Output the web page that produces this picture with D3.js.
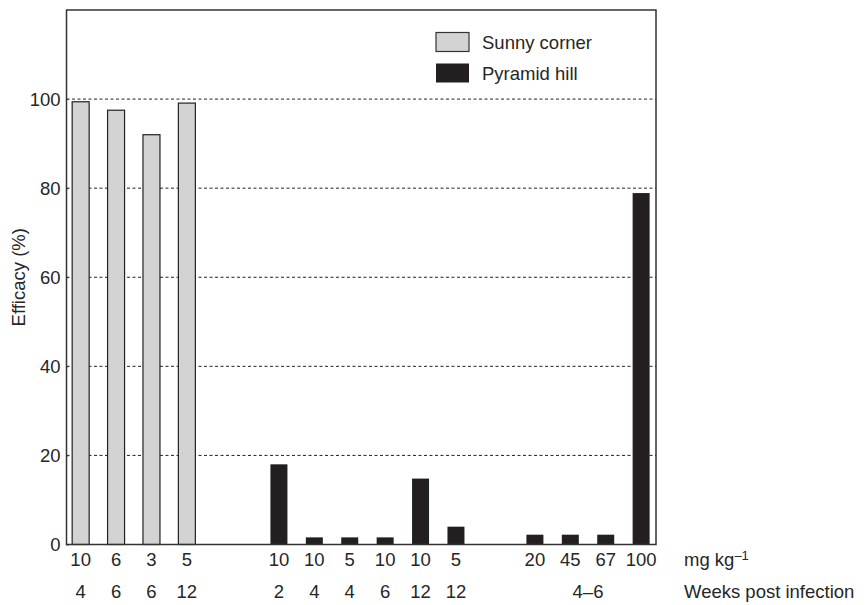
<!DOCTYPE html>
<html>
<head>
<meta charset="utf-8">
<script src="https://cdn.jsdelivr.net/npm/d3@7"></script>
<style>
  body { margin: 0; background: #fff; }
  text { font-family: "Liberation Sans", Arial, sans-serif; fill: #262626; }
</style>
</head>
<body>
<svg id="chart" width="865" height="605"></svg>
<script>
// values
const doses   = ["10", "6", "3", "5", "10", "10", "5", "10", "10", "5", "20", "45", "67", "100"];
const weeks   = ["4", "6", "6", "12", "2", "4", "4", "6", "12", "12", "", "", "", ""];
const sites   = ["Sunny corner", "Sunny corner", "Sunny corner", "Sunny corner",
                 "Pyramid hill", "Pyramid hill", "Pyramid hill", "Pyramid hill", "Pyramid hill", "Pyramid hill",
                 "Pyramid hill", "Pyramid hill", "Pyramid hill", "Pyramid hill"];
const groups  = [0, 0, 0, 0, 1, 1, 1, 1, 1, 1, 2, 2, 2, 2];
const efficacy = [99.4, 97.5, 92.0, 99.1, 18.0, 1.6, 1.6, 1.6, 14.8, 4.0, 2.2, 2.2, 2.2, 78.9];
const yTicks  = [0, 20, 40, 60, 80, 100];
const legendItems = ["Sunny corner", "Pyramid hill"];

// gaps between the three experiment groups, in bar slots
const groupOffset = [0, 1.6, 2.83];

const svg = d3.select("#chart");
const frame = { left: 66.5, right: 656, top: 10, bottom: 544.5 };
const fs = "18.5px";

// slot position of each bar
const slots = doses.map((d, i) => i + groupOffset[groups[i]]);

const x = d3.scaleLinear().domain([-0.4, 16.25]).range([frame.left, frame.right]);
const y = d3.scaleLinear().domain([0, 120]).range([frame.bottom, frame.top]);
const colour = d3.scaleOrdinal().domain(legendItems).range(["#d3d3d3", "#231f20"]);
const barW = 17;

// dashed grid lines
svg.append("g")
  .selectAll("line")
  .data(yTicks.filter(t => t > 0))
  .enter()
  .append("line")
    .attr("x1", frame.left).attr("x2", frame.right)
    .attr("y1", d => y(d)).attr("y2", d => y(d))
    .attr("stroke", "#222")
    .attr("stroke-width", 1)
    .attr("stroke-dasharray", "3,2.5");

// bars
svg.append("g")
  .selectAll("rect")
  .data(efficacy)
  .enter()
  .append("rect")
    .attr("x", (d, i) => x(slots[i]) - barW / 2)
    .attr("y", d => y(d))
    .attr("width", barW)
    .attr("height", d => y(0) - y(d))
    .attr("fill", (d, i) => colour(sites[i]))
    .attr("stroke", (d, i) => sites[i] === "Sunny corner" ? "#222" : "none")
    .attr("stroke-width", 1.2);

// frame
svg.append("rect")
  .attr("x", frame.left).attr("y", frame.top)
  .attr("width", frame.right - frame.left).attr("height", frame.bottom - frame.top)
  .attr("fill", "none")
  .attr("stroke", "#333")
  .attr("stroke-width", 1.5);

// y axis labels
const yAxis = d3.axisLeft(y).tickValues(yTicks).tickSize(-2).tickPadding(6);
const yg = svg.append("g")
  .attr("transform", `translate(${frame.left},0)`)
  .call(yAxis);
yg.select(".domain").remove();
yg.selectAll(".tick line").attr("stroke", "#333");
yg.selectAll("text")
  .style("font-family", "Liberation Sans, Arial, sans-serif")
  .style("font-size", fs)
  .attr("fill", "#262626");

svg.append("text")
  .attr("transform", `translate(25,${y(60)}) rotate(-90)`)
  .attr("text-anchor", "middle")
  .style("font-size", fs)
  .text("Efficacy (%)");

// dose row
svg.append("g")
  .selectAll("text")
  .data(doses)
  .enter()
  .append("text")
    .attr("x", (d, i) => x(slots[i]))
    .attr("y", 566)
    .attr("text-anchor", "middle")
    .style("font-size", fs)
    .text(d => d);

// weeks row
svg.append("g")
  .selectAll("text")
  .data(weeks)
  .enter()
  .append("text")
    .attr("x", (d, i) => x(slots[i]))
    .attr("y", 598)
    .attr("text-anchor", "middle")
    .style("font-size", fs)
    .text(d => d);

// group 3 shares one weeks label
const g3 = slots.filter((s, i) => groups[i] === 2);
svg.append("text")
  .attr("x", x(d3.mean(g3)))
  .attr("y", 598)
  .attr("text-anchor", "middle")
  .style("font-size", fs)
  .text("4–6");

// row titles
const unit = svg.append("text")
  .attr("x", 684).attr("y", 566)
  .style("font-size", fs);
unit.append("tspan").text("mg kg");
unit.append("tspan").attr("dy", -6).style("font-size", "13px").text("–1");

svg.append("text")
  .attr("x", 684).attr("y", 598)
  .style("font-size", fs)
  .text("Weeks post infection");

// legend
const legend = svg.append("g")
  .selectAll("g")
  .data(legendItems)
  .enter()
  .append("g")
    .attr("transform", (d, i) => `translate(436,${32.5 + i * 31})`);
legend.append("rect")
  .attr("width", 33).attr("height", 19)
  .attr("fill", d => colour(d))
  .attr("stroke", d => d === "Sunny corner" ? "#333" : "none")
  .attr("stroke-width", 1.2);
legend.append("text")
  .attr("x", 46).attr("y", 16)
  .style("font-size", fs)
  .text(d => d);
</script>
</body>
</html>
